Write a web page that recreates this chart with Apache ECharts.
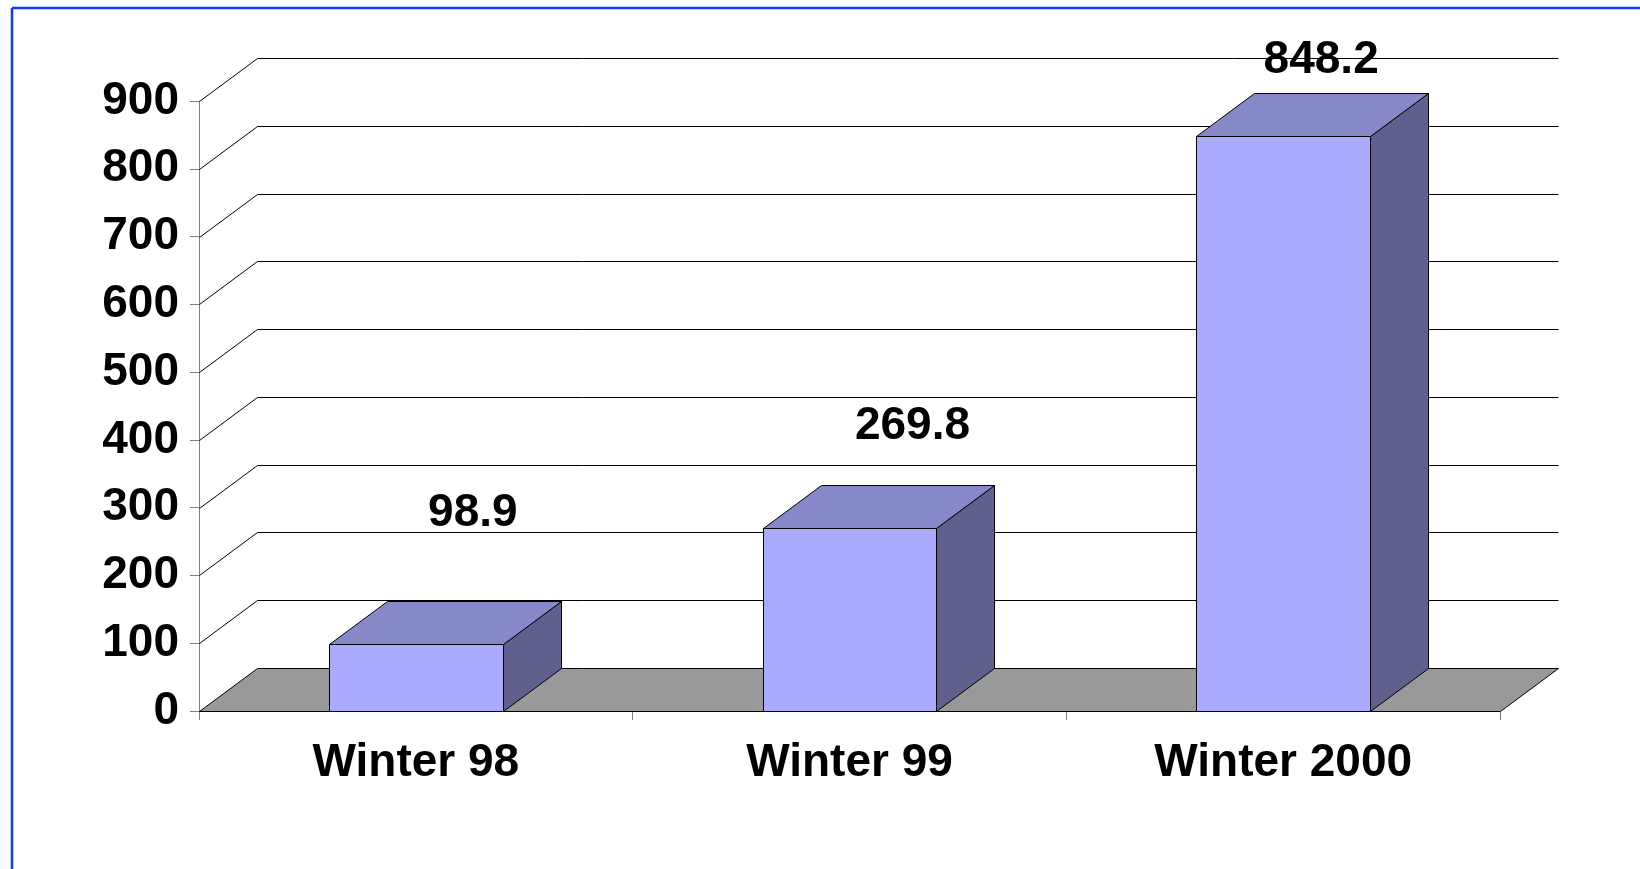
<!DOCTYPE html>
<html>
<head>
<meta charset="utf-8">
<script src="https://cdn.jsdelivr.net/npm/echarts@6/dist/echarts.min.js"></script>
<style>
  html, body { margin: 0; padding: 0; background: #ffffff; }
  #chart { width: 1640px; height: 869px; }
</style>
</head>
<body>
<div id="chart"></div>
<script>
// Chart data
const categories = ['Winter 98', 'Winter 99', 'Winter 2000'];
const values = [98.9, 269.8, 848.2];
const yTicks = [0, 100, 200, 300, 400, 500, 600, 700, 800, 900];

// 3D look: depth offset of the floor, back wall and bar boxes
const DEPTH_X = 58;
const DEPTH_Y = 43;
const BAR_RATIO = 0.4;
// per-bar nudge of the value labels, relative to the top of each bar's front face
const labelNudgeX = [57, 63, 38];
const labelNudgeY = [-131, -102, -76];

const FONT = 'bold 46px "Liberation Sans", Arial, sans-serif';
const snap = v => Math.round(v) + 0.5;

const chart = echarts.init(document.getElementById('chart'), null, { renderer: 'canvas' });

// back wall grid lines, with the diagonal on the left side wall
function renderWall(params, api) {
  const cs = params.coordSys;
  const v = api.value(0);
  if (v === 0) return { type: 'group', children: [] };
  const y = snap(api.coord([0, v])[1]);
  const x0 = snap(cs.x);
  const x1 = snap(cs.x + cs.width);
  const lineStyle = { stroke: '#000000', lineWidth: 1 };
  return {
    type: 'group',
    children: [
      { type: 'line', shape: { x1: x0, y1: y, x2: x0 + DEPTH_X, y2: y - DEPTH_Y }, style: lineStyle },
      { type: 'line', shape: { x1: x0 + DEPTH_X, y1: y - DEPTH_Y, x2: x1 + DEPTH_X, y2: y - DEPTH_Y }, style: lineStyle }
    ]
  };
}

// grey floor
function renderFloor(params, api) {
  const cs = params.coordSys;
  const y = snap(api.coord([0, 0])[1]);
  const x0 = snap(cs.x);
  const x1 = snap(cs.x + cs.width);
  return {
    type: 'polygon',
    shape: { points: [[x0, y], [x1, y], [x1 + DEPTH_X, y - DEPTH_Y], [x0 + DEPTH_X, y - DEPTH_Y]] },
    style: { fill: '#999999', stroke: '#000000', lineWidth: 1 }
  };
}

// box-shaped bars with value labels
function renderBar(params, api) {
  const i = api.value(0);
  const v = api.value(1);
  const top = api.coord([i, v]);
  const base = api.coord([i, 0]);
  const bw = api.size([1, 0])[0] * BAR_RATIO;
  const l = snap(top[0] - bw / 2);
  const r = snap(top[0] + bw / 2);
  const ty = snap(top[1]);
  const by = snap(base[1]);
  const edge = { stroke: '#000000', lineWidth: 1, lineJoin: 'round' };
  return {
    type: 'group',
    children: [
      {
        type: 'polygon',
        shape: { points: [[r, ty], [r + DEPTH_X, ty - DEPTH_Y], [r + DEPTH_X, by - DEPTH_Y], [r, by]] },
        style: Object.assign({ fill: '#60608F' }, edge)
      },
      {
        type: 'polygon',
        shape: { points: [[l, ty], [r, ty], [r + DEPTH_X, ty - DEPTH_Y], [l + DEPTH_X, ty - DEPTH_Y]] },
        style: Object.assign({ fill: '#8688C8' }, edge)
      },
      {
        type: 'rect',
        shape: { x: l, y: ty, width: r - l, height: by - ty },
        style: Object.assign({ fill: '#AAAAFF' }, edge)
      },
      {
        type: 'text',
        style: {
          text: v.toFixed(1),
          x: top[0] + labelNudgeX[i],
          y: top[1] + labelNudgeY[i],
          font: FONT,
          fill: '#000000',
          align: 'center',
          verticalAlign: 'middle'
        }
      }
    ]
  };
}

const option = {
  backgroundColor: '#ffffff',
  animation: false,
  grid: { left: 199, right: 140, top: 101, bottom: 158 },
  xAxis: {
    type: 'category',
    data: categories,
    boundaryGap: true,
    axisLine: { show: true, lineStyle: { color: '#000000', width: 1 } },
    axisTick: { show: true, length: 9, lineStyle: { color: '#808080', width: 1 } },
    axisLabel: { color: '#000000', fontSize: 46, fontWeight: 'bold', fontFamily: '"Liberation Sans", Arial, sans-serif', margin: 29 },
    splitLine: { show: false }
  },
  yAxis: {
    type: 'value',
    min: 0,
    max: 900,
    interval: 100,
    axisLine: { show: true, lineStyle: { color: '#808080', width: 1 } },
    axisTick: { show: true, length: 9, lineStyle: { color: '#808080', width: 1 } },
    axisLabel: { color: '#000000', fontSize: 46, fontWeight: 'bold', fontFamily: '"Liberation Sans", Arial, sans-serif', margin: 20 },
    splitLine: { show: false }
  },
  graphic: [
    { type: 'line', shape: { x1: 12, y1: 8, x2: 1640, y2: 8 }, style: { stroke: '#0D3BFF', lineWidth: 2.5 }, silent: true },
    { type: 'line', shape: { x1: 12, y1: 8, x2: 12, y2: 869 }, style: { stroke: '#0D3BFF', lineWidth: 2.5 }, silent: true }
  ],
  series: [
    {
      type: 'custom',
      name: 'wall',
      renderItem: renderWall,
      data: yTicks.map(v => [v]),
      encode: { y: 0 },
      z: 1,
      silent: true
    },
    {
      type: 'custom',
      name: 'floor',
      renderItem: renderFloor,
      data: [[0]],
      encode: { y: 0 },
      z: 2,
      silent: true
    },
    {
      type: 'custom',
      name: 'bars',
      renderItem: renderBar,
      data: values.map((v, i) => [i, v]),
      encode: { x: 0, y: 1 },
      z: 3
    }
  ]
};

chart.setOption(option);
</script>
</body>
</html>
